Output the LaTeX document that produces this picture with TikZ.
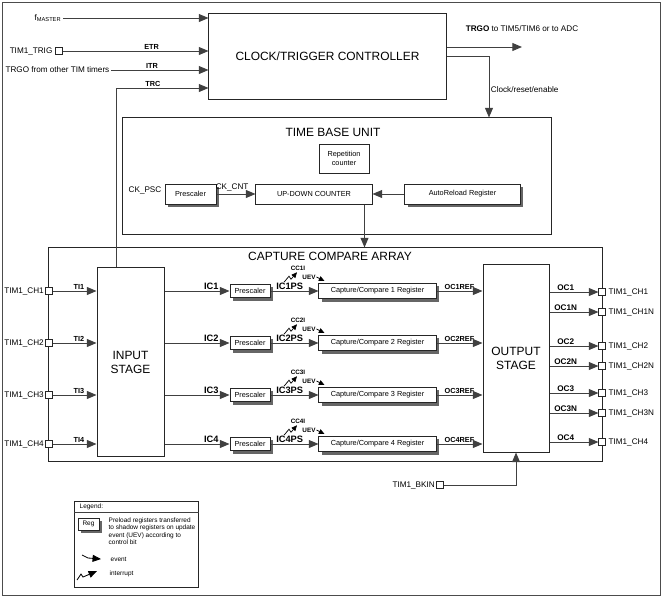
\documentclass[tikz,border=0pt]{standalone}
\usepackage{fontspec}
\setmainfont{Liberation Sans}
\usepackage{xcolor}
\usepackage{tikz}
\usetikzlibrary{arrows.meta,positioning,calc,shadows}
\definecolor{linegray}{gray}{0.25}
\newcommand{\fsz}[2]{\fontsize{#1}{#2}\selectfont}

\begin{document}
\begin{tikzpicture}[x=0.025cm, y=-0.025cm,
  box/.style={draw=black!85, line width=0.7pt, fill=white, align=center, inner sep=1pt},
  regbox/.style={box, drop shadow={shadow xshift=2pt, shadow yshift=-2pt, fill=black!60, opacity=1}},
  pinbox/.style={draw=black!85, fill=white, minimum size=0.16cm, inner sep=0pt, line width=0.5pt},
  arr/.style={-{Triangle[length=6.8pt,width=5.6pt]}, draw=linegray, line width=0.7pt},
  wire/.style={draw=linegray, line width=0.6pt},
  evarr/.style={-{Triangle[length=4pt,width=3.5pt]}, draw=black, line width=0.5pt},
  evarrbig/.style={-{Triangle[length=6pt,width=5pt]}, draw=black, line width=0.6pt},
  titletxt/.style={font=\fsz{8.5}{10}, inner sep=1pt, align=center},
  lbl/.style={font=\fsz{5.8}{6.9}, inner sep=1pt},
  boxtext/.style={font=\fsz{5.2}{6.2}},
  siglbl/.style={font=\bfseries\fsz{5.2}{6.2}, inner sep=1pt},
  icl/.style={font=\bfseries\fsz{6.6}{7.6}, inner sep=1pt},
  ocl/.style={font=\bfseries\fsz{5.8}{6.8}, inner sep=1pt},
  evlbl/.style={font=\bfseries\fsz{4.5}{5.2}, inner sep=0.5pt},
  lgd/.style={font=\fsz{4.6}{5.3}, inner sep=1pt}
]
\useasboundingbox (0,0) rectangle (663,600);
\draw[draw=black!70, line width=0.6pt] (2,2) rectangle (660,595);

% capture compare array
\node[box, minimum width=13.825cm, minimum height=5.325cm] (cca) at (325.5,354.5) {};
\node[titletxt] (ccatitle) at (330,256) {CAPTURE COMPARE ARRAY};
\node[box, titletxt, minimum width=1.675cm, minimum height=4.7cm] (input) at (130.5,362) {INPUT\\STAGE};
\node[box, titletxt, minimum width=1.65cm, minimum height=4.675cm] (output) at (516,358.5) {OUTPUT\\STAGE};

% clock/trigger controller
\node[box, titletxt, minimum width=5.925cm, minimum height=2.15cm] (ctrl) at (327.5,56) {CLOCK/TRIGGER CONTROLLER};

\node[lbl] (fm) at (48,18) {f\textsubscript{MASTER}};
\draw[arr] (fm) -- (fm -| ctrl.west);
\node[pinbox] (trigpin) at (59,51) {};
\node[lbl, left=1pt of trigpin] (trig) {TIM1\_TRIG};
\draw[arr] (trigpin) -- (trigpin -| ctrl.west) node[siglbl, pos=0.61, above] {ETR};
\node[lbl, anchor=east] (trgoin) at (111,70) {TRGO from other TIM timers};
\draw[arr] (trgoin) -- (trgoin -| ctrl.west) node[siglbl, pos=0.42, above] {ITR};
\coordinate (trc) at (116,88);
\draw[arr] (input.north -| trc) -- (trc) -- (trc -| ctrl.west) node[siglbl, pos=0.4, above] {TRC};

\node[lbl] (trgolbl) at (522,29) {\textbf{TRGO} to TIM5/TIM6 or to ADC};
\coordinate (trgoout) at ($(ctrl.east)+(0,-9)$);
\draw[arr] (trgoout) -- (trgoout -| trgolbl);

% time base unit
\node[box, minimum width=10.7cm, minimum height=2.9cm] (tbu) at (337,176) {};
\node[titletxt] (tbutitle) at (333,132) {TIME BASE UNIT};
\coordinate (cre) at (489,0);
\draw[arr] (ctrl.east) -| (cre |- tbu.north) node[lbl, pos=0.77, right] {Clock/reset/enable};

\node[box, boxtext, minimum width=1.25cm, minimum height=0.725cm] (rep) at (344,158.5) {Repetition\\counter};
\node[regbox, boxtext, minimum width=1.275cm, minimum height=0.5cm] (tpsc) at (190.5,194) {Prescaler};
\node[box, boxtext, minimum width=2.9cm, minimum height=0.5cm] (cnt) at (314,194) {UP-DOWN COUNTER};
\node[regbox, boxtext, minimum width=2.875cm, minimum height=0.5cm] (autorel) at (462.5,194) {AutoReload Register};
\node[lbl, anchor=east] (ckpsc) at (163,190) {CK\_PSC};
\draw[arr] (tpsc) -- (cnt) node[lbl, pos=0.4, above=1pt] {CK\_CNT};
\draw[arr] (autorel) -- (cnt);
\coordinate (cntout) at ($(cnt.south east)+(-8,0)$);
\draw[arr] (cntout) -- (cntout |- cca.north);

% capture / compare channels
\foreach \i/\y in {1/291,2/343,3/395,4/444} {
  \node[pinbox] (inpin\i) at (49,\y) {};
  \node[lbl, left=0pt of inpin\i] (inlbl\i) {TIM1\_CH\i};
  \draw[arr] (inpin\i) -- (inpin\i -| input.west) node[siglbl, pos=0.6, above] {TI\i};
  \node[regbox, boxtext, minimum width=1cm, minimum height=0.34cm] (psc\i) at (250,\y) {Prescaler};
  \draw[arr] (psc\i -| input.east) -- (psc\i) node[icl, pos=0.72, above] {IC\i};
  \node[regbox, boxtext, minimum width=2.925cm, minimum height=0.39cm] (ccr\i) at (377.5,\y) {Capture/Compare \i\ Register};
  \draw[arr] (psc\i) -- (ccr\i) node[icl, pos=0.4, above] {IC\i PS};
  \draw[arr] (ccr\i) -- (ccr\i -| output.west) node[siglbl, pos=0.5, above] {OC\i REF};
  \node[evlbl] (cci\i) at (298,\y-23) {CC\i I};
  \node[evlbl] (uev\i) at (309,\y-14) {UEV};
  \draw[evarr] (uev\i.east) -- ++(2,1) -- ++(6,3);
  \draw[evarr] ($(cci\i.south)+(-14,11)$) -- ++(5,-6) -- ++(2,3) -- ++(6,-7);
}

% output pins
\foreach \o/\y/\c in {OC1/292/CH1, OC1N/312/CH1N, OC2/346/CH2, OC2N/366/CH2N, OC3/393/CH3, OC3N/413/CH3N, OC4/442/CH4} {
  \node[pinbox] (outpin\c) at (602,\y) {};
  \node[lbl, right=1pt of outpin\c] (outlbl\c) {TIM1\_\c};
  \draw[arr] (outpin\c -| output.east) -- (outpin\c) node[ocl, pos=0.33, above] {\o};
}

\node[pinbox] (bkinpin) at (440,485) {};
\node[lbl, left=0pt of bkinpin] (bkin) {TIM1\_BKIN};
\draw[arr] (bkinpin) -| (output.south);

% legend
\node[box, minimum width=3.075cm, minimum height=2.15cm] (legend) at (136.5,544) {};
\node[lgd, anchor=west] (legtitle) at (78,507) {Legend:};
\draw[wire] ($(legend.north west)+(0,12)$) -- ($(legend.north east)+(0,12)$);
\node[regbox, lgd, minimum width=0.525cm, minimum height=0.3cm] (legreg) at (88.5,524) {Reg};
\node[lgd, anchor=north west, align=left] (legtext) at (107,516) {Preload registers transferred\\to shadow registers on update\\event (UEV) according to\\control bit};
\node[lgd, anchor=west] (legevt) at (109,559) {event};
\node[lgd, anchor=west] (legint) at (108,574) {interrupt};
\draw[evarrbig] ($(legevt.west)+(-27,-4)$) -- ++(6,3) -- ++(13,1);
\draw[evarrbig] ($(legint.west)+(-31,6)$) -- ++(4,-6) -- ++(2,3) -- ++(14,-6);

\end{tikzpicture}
\end{document}
